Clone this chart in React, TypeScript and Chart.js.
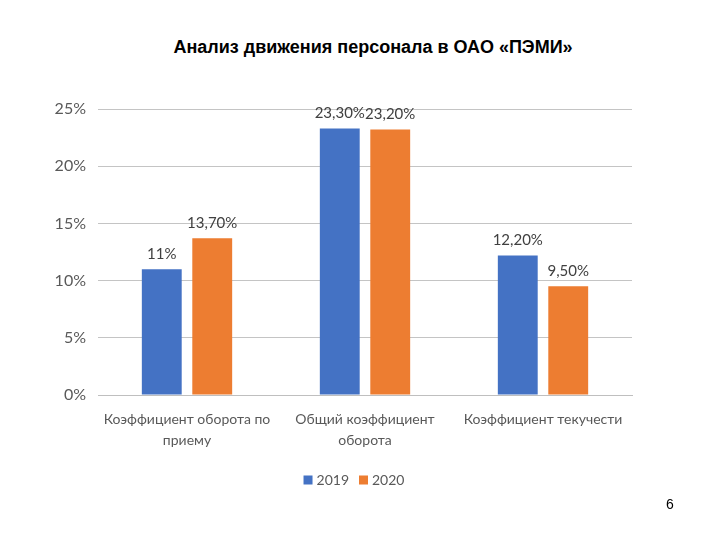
import React, { useEffect, useRef } from "react";
import { Chart, registerables } from "chart.js";

Chart.register(...registerables);

const categories: string[][] = [
  ["Коэффициент оборота по", "приему"],
  ["Общий коэффициент", "оборота"],
  ["Коэффициент текучести"],
];
const seriesNames = ["2019", "2020"];
const values2019 = [11, 23.3, 12.2];
const values2020 = [13.7, 23.2, 9.5];
const yTicks = [0, 5, 10, 15, 20, 25];
const title = "Анализ движения персонала в ОАО «ПЭМИ»";
const pageNumber = "6";

const fmt = (v: number) =>
  Number.isInteger(v) ? `${v}%` : `${v.toFixed(2).replace(".", ",")}%`;

const FONT = "Lato, 'Open Sans', sans-serif";
const GRAY = "#595959";

const labelPlugin = {
  id: "barLabels",
  afterDatasetsDraw(chart: any) {
    const ctx = chart.ctx;
    ctx.save();
    ctx.font = `15px ${FONT}`;
    ctx.fillStyle = "#404040";
    ctx.textAlign = "center";
    ctx.textBaseline = "bottom";
    chart.data.datasets.forEach((ds: any, i: number) => {
      const meta = chart.getDatasetMeta(i);
      meta.data.forEach((bar: any, j: number) => {
        ctx.fillText(fmt(ds.data[j]), bar.x, bar.y - 8);
      });
    });
    ctx.restore();
  },
};

const legendPlugin = {
  id: "customLegend",
  afterDraw(chart: any) {
    const ctx = chart.ctx;
    ctx.save();
    ctx.font = `14px ${FONT}`;
    const box = 9;
    const gapText = 4;
    const gapItem = 10;
    const items = chart.data.datasets.map((ds: any) => ({
      label: ds.label,
      color: ds.backgroundColor,
      w: box + gapText + ctx.measureText(ds.label).width,
    }));
    const total =
      items.reduce((a: number, it: any) => a + it.w, 0) +
      gapItem * (items.length - 1);
    const cx = (chart.chartArea.left + chart.chartArea.right) / 2 - 11;
    let x = cx - total / 2;
    const y = 480;
    items.forEach((it: any) => {
      ctx.fillStyle = it.color;
      ctx.fillRect(x, y - box / 2, box, box);
      ctx.fillStyle = GRAY;
      ctx.textBaseline = "middle";
      ctx.textAlign = "left";
      ctx.fillText(it.label, x + box + gapText, y);
      x += it.w + gapItem;
    });
    ctx.restore();
  },
};

export default function App() {
  const ref = useRef<HTMLCanvasElement | null>(null);
  useEffect(() => {
    if (!ref.current) return;
    const chart = new Chart(ref.current, {
      type: "bar",
      data: {
        labels: categories,
        datasets: [
          {
            label: seriesNames[0],
            data: values2019,
            backgroundColor: "#4472C4",
            categoryPercentage: 0.567,
            barPercentage: 0.79,
          },
          {
            label: seriesNames[1],
            data: values2020,
            backgroundColor: "#ED7D31",
            categoryPercentage: 0.567,
            barPercentage: 0.79,
          },
        ],
      },
      options: {
        animation: false,
        responsive: false,
        maintainAspectRatio: false,
        layout: { padding: { left: 38, right: 88, top: 109, bottom: 85 } },
        plugins: {
          legend: { display: false },
          tooltip: { enabled: false },
          title: { display: false },
        },
        scales: {
          x: {
            afterFit: (s: any) => {
              s.height = 60;
            },
            grid: { display: false, drawTicks: false },
            border: { color: "#bfbfbf" },
            ticks: {
              color: GRAY,
              font: { family: FONT, size: 14, lineHeight: 1.5 },
              padding: 14,
              maxRotation: 0,
              autoSkip: false,
            },
          },
          y: {
            min: 0,
            max: 25,
            afterFit: (s: any) => {
              s.width = 60;
            },
            afterBuildTicks: (s: any) => {
              s.ticks = yTicks.map((v) => ({ value: v }));
            },
            grid: { color: "#c4c4c4", drawTicks: false },
            border: { display: false },
            ticks: {
              color: GRAY,
              font: { family: FONT, size: 16 },
              padding: 12,
              callback: (v: any) => `${v}%`,
            },
          },
        },
      },
      plugins: [labelPlugin, legendPlugin],
    });
    return () => chart.destroy();
  }, []);
  return (
    <div
      style={{
        position: "fixed",
        left: 0,
        top: 0,
        width: 720,
        height: 540,
        background: "#fff",
      }}
    >
      <div
        style={{
          position: "absolute",
          left: 0,
          width: 746,
          top: 37,
          textAlign: "center",
          fontFamily: "'Liberation Sans', Arial, sans-serif",
          fontWeight: "bold",
          fontSize: 18,
          color: "#000",
        }}
      >
        {title}
      </div>
      <canvas
        ref={ref}
        width={720}
        height={540}
        style={{ position: "absolute", left: 0, top: 0 }}
      />
      <div
        style={{
          position: "absolute",
          left: 666,
          top: 496,
          fontFamily: "'Liberation Sans', Arial, sans-serif",
          fontSize: 14,
          color: "#000",
        }}
      >
        {pageNumber}
      </div>
    </div>
  );
}
